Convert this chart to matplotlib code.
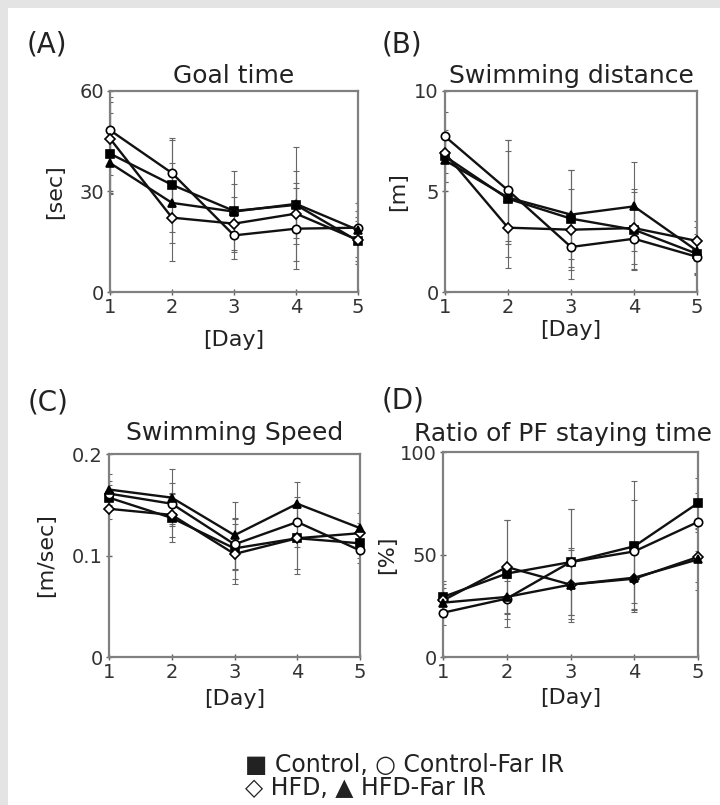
import matplotlib.pyplot as plt
import numpy as np
from matplotlib.patches import Rectangle

days = [1, 2, 3, 4, 5]

# (A) goal time [sec]
goal_ctrl = [41.3, 32.0, 24.2, 26.0, 15.2]
goal_ctrl_ir = [48.3, 35.5, 16.9, 18.9, 19.2]
goal_hfd = [45.8, 22.2, 20.4, 23.4, 15.5]
goal_hfd_ir = [38.5, 26.6, 24.0, 26.3, 18.5]
goal_err_ctrl = [12, 14, 8, 10, 6]
goal_err_ctrl_ir = [10, 10, 7, 12, 5]
goal_err_hfd = [11, 13, 8, 9, 7]
goal_err_hfd_ir = [9, 12, 12, 17, 8]

# (B) swimming distance [m]
dist_ctrl = [6.75, 4.64, 3.65, 3.10, 1.90]
dist_ctrl_ir = [7.74, 5.06, 2.24, 2.65, 1.75]
dist_hfd = [6.90, 3.20, 3.10, 3.18, 2.54]
dist_hfd_ir = [6.55, 4.70, 3.85, 4.26, 2.05]
dist_err_ctrl = [1.3, 2.9, 2.4, 2.0, 1.0]
dist_err_ctrl_ir = [1.2, 2.5, 1.6, 1.5, 0.8]
dist_err_hfd = [1.0, 2.0, 2.0, 1.8, 1.0]
dist_err_hfd_ir = [1.1, 2.3, 2.2, 2.2, 1.2]

# (C) swimming speed [m/sec]
speed_ctrl = [0.157, 0.137, 0.107, 0.117, 0.112]
speed_ctrl_ir = [0.161, 0.151, 0.111, 0.133, 0.105]
speed_hfd = [0.146, 0.140, 0.1015, 0.117, 0.122]
speed_hfd_ir = [0.165, 0.157, 0.120, 0.151, 0.127]
speed_err_ctrl = [0.012, 0.024, 0.030, 0.035, 0.014]
speed_err_ctrl_ir = [0.012, 0.020, 0.025, 0.025, 0.012]
speed_err_hfd = [0.010, 0.022, 0.030, 0.030, 0.010]
speed_err_hfd_ir = [0.015, 0.028, 0.033, 0.021, 0.015]

# (D) ratio of PF staying time [%]
ratio_ctrl = [29.3, 40.7, 46.3, 54.0, 75.1]
ratio_ctrl_ir = [21.6, 28.5, 46.3, 51.5, 65.9]
ratio_hfd = [27.6, 43.9, 35.3, 38.2, 48.8]
ratio_hfd_ir = [26.5, 29.3, 35.3, 38.7, 47.6]
ratio_err_ctrl = [8, 26, 26, 32, 12]
ratio_err_ctrl_ir = [6, 10, 26, 25, 14]
ratio_err_hfd = [8, 23, 18, 15, 12]
ratio_err_hfd_ir = [7, 8, 17, 16, 15]

fig = plt.figure(figsize=(7.2, 8.05), dpi=100)
fig.patch.set_facecolor('#e4e4e4')
fig.patches.append(Rectangle((8/720, 0), 1, 1 - 8/805, transform=fig.transFigure,
                             facecolor='white', edgecolor='none', zorder=-10))

# label, title, ylabel, yticks, yticklabels, series, errors, axes box px,
# panel label pos, title pad, title x, xlabel pad, ylabel pad
panels = [
    ('(A)', 'Goal time', '[sec]', [0, 30, 60], ['0', '30', '60'],
     [goal_ctrl, goal_ctrl_ir, goal_hfd, goal_hfd_ir],
     [goal_err_ctrl, goal_err_ctrl_ir, goal_err_hfd, goal_err_hfd_ir],
     [110, 91, 358, 292], (27, 53), 6, 0.5, 9, 10),
    ('(B)', 'Swimming distance', '[m]', [0, 5, 10], ['0', '5', '10'],
     [dist_ctrl, dist_ctrl_ir, dist_hfd, dist_hfd_ir],
     [dist_err_ctrl, dist_err_ctrl_ir, dist_err_hfd, dist_err_hfd_ir],
     [445, 91, 697, 292], (382, 53), 6, 0.5, 2, 4),
    ('(C)', 'Swimming Speed', '[m/sec]', [0, 0.1, 0.2], ['0', '0.1', '0.2'],
     [speed_ctrl, speed_ctrl_ir, speed_hfd, speed_hfd_ir],
     [speed_err_ctrl, speed_err_ctrl_ir, speed_err_hfd, speed_err_hfd_ir],
     [109, 454, 360, 657], (28, 410), 10, 0.5, 5, 11),
    ('(D)', 'Ratio of PF staying time', '[%]', [0, 50, 100], ['0', '50', '100'],
     [ratio_ctrl, ratio_ctrl_ir, ratio_hfd, ratio_hfd_ir],
     [ratio_err_ctrl, ratio_err_ctrl_ir, ratio_err_hfd, ratio_err_hfd_ir],
     [443, 452, 698, 657], (382, 408), 8, 0.47, 4, 2),
]

markers = ['s', 'o', 'D', '^']
faces = ['black', 'white', 'white', 'black']
sizes = [6, 6, 5, 6]
W, H = 720, 805

for (lab, title, ylab, yt, ytl, series, errs, box, labpos,
     tpad, tx, xpad, ypad) in panels:
    x0, y0, x1, y1 = box
    ax = fig.add_axes([x0 / W, 1 - y1 / H, (x1 - x0) / W, (y1 - y0) / H])
    ax.patch.set_alpha(0)
    for vals, err in zip(series, errs):
        ax.errorbar(days, vals, yerr=err, fmt='none', ecolor='#666666',
                    elinewidth=0.8, capsize=2, capthick=0.8, zorder=1)
    for vals, m, fc, ms in zip(series, markers, faces, sizes):
        ax.plot(days, vals, color='#111111', lw=1.7, marker=m, markersize=ms,
                markerfacecolor=fc, markeredgecolor='black', markeredgewidth=1.2,
                zorder=3, clip_on=False)
    ax.set_xlim(1, 5)
    ax.set_ylim(yt[0], yt[-1])
    ax.set_xticks(days)
    ax.set_yticks(yt)
    ax.set_yticklabels(ytl)
    for s in ax.spines.values():
        s.set_color('#808080')
        s.set_linewidth(1.6)
    ax.tick_params(direction='inout', length=5, width=1, color='#606060',
                   labelsize=14, labelcolor='#333333', pad=2)
    ax.set_title(title, fontsize=18, color='#222222', pad=tpad, x=tx)
    ax.set_xlabel('[Day]', fontsize=16, color='#222222', labelpad=xpad)
    ax.set_ylabel(ylab, fontsize=16, color='#222222', labelpad=ypad)
    fig.text(labpos[0] / W, 1 - labpos[1] / H, lab, fontsize=20,
             color='#222222', ha='left', va='baseline')

fig.text(245 / W, 1 - 772 / H, '\u25a0 Control, \u25cb Control-Far IR',
         fontsize=17, color='#222222', ha='left', va='baseline')
fig.text(245 / W, 1 - 795 / H, '\u25c7 HFD, \u25b2 HFD-Far IR',
         fontsize=17, color='#222222', ha='left', va='baseline')

fig.savefig('out.png', dpi=100, facecolor=fig.get_facecolor())
